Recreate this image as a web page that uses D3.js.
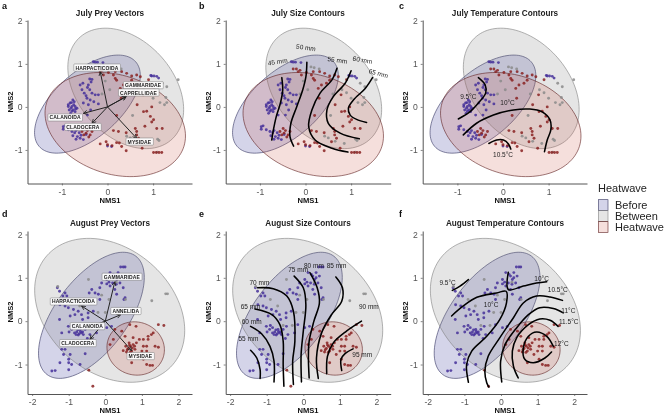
<!DOCTYPE html>
<html><head><meta charset="utf-8">
<script src="https://cdnjs.cloudflare.com/ajax/libs/d3/7.8.5/d3.min.js"></script>
<style>html,body{margin:0;padding:0;background:#fff}svg{display:block;font-family:"Liberation Sans",Arial,sans-serif;filter:blur(.3px)}</style>
</head><body><svg id="c" width="668" height="416"></svg>
<script>
// ---------- data (NMS units) ----------
const groups = ["Before","Between","Heatwave"];
// ellipse: group, centre x, centre y, half-width x, half-width y, correlation
const julyEllipses = [["Before",-.44,.065,1.16,1.14,.58],["Between",.40,.43,1.27,1.40,-.35],["Heatwave",.17,-.41,1.54,1.21,-.22]];
const augEllipses = [["Before",-.38,.135,1.445,1.455,.6],["Between",.12,.25,2.05,1.66,-.28],["Heatwave",.83,-.63,.785,.615,-.05]];

const julyBefore = [[-.82,.09],[-.76,.16],[-.73,.12],[-.86,.01],[-.78,.01],[-.71,.01],[-.84,-.07],[-.75,-.07],[-.81,-.15],[-.71,-.11],[-.86,.05],[-.67,-.03],[-.79,.1],[-.74,.05],[-.8,-.03],[-.7,-.05],[-.78,-.1],
[-.6,.51],[-.54,.55],[-.39,.65],[-.34,.64],[-.42,.51],[-.39,.4],[-.56,.4],[-.51,.32],[-.47,.26],[-.34,.32],[-.27,.28],[-.38,.16],[-.2,.28],[-.53,.09],[-.42,.05],[-.2,.07],[-.6,-.19],[-.44,-.19],[-.37,-.07],[-.44,.45],[-.36,.58],[-.45,.2],[-.3,.12],
[-.31,1.05],[-.22,1.04],[-.27,1.04],[-.1,1.03],
[-.97,-.46],[-.93,-.44],[-.86,-.53],[-.78,-.57],[-.69,-.55],[-.97,-.52],[-.76,-.67],[-.66,-.69],[-.6,-.73],[-.53,-.76],[-.69,-.75],[-.62,-.6],[-.47,-.64],[-.72,-.6],[-.58,-.66],
[.97,.72],[1.02,.72],[1.08,.71],[1.12,.67],[.95,.73],[0,-.91],[.09,-.92]];
const julyBetween = [[1.55,.63],[1.3,.47],[1.2,.55],[1.3,.1],[1.28,.22],[.12,.93],[.19,.91],[.3,.88],[.65,-.8],[.85,-.85],[1.1,-.75],[1.13,-.78],[1.09,-1.05],[.42,-.68],[.5,-.72],[.05,.4],[-.12,.3],[-.05,.6],[.9,.33],[1,.2],[1.15,.1],[1.25,.05],[.8,.4],[.6,.3],[.55,-.2]];
const julyHeatwave = [[-.16,-.86],[-.03,-.81],[0,-.88],[.1,-.9],[.2,-.83],[.26,-.84],[.41,-1.02],[.31,-.92],[.13,-.55],[.24,-.57],[.41,-.6],[.61,-.5],[.64,-.57],[.68,-.73],[.76,-.96],[1.01,-1.06],[1.07,-1.06],[1.13,-1.06],[1.19,-1.06],[.57,-.81],[.64,-.65],
[-.56,-.57],[-.47,-.61],[-.38,-.65],[-.49,-.5],[-.44,-.55],[-.34,-.57],[-.52,-.65],[-.41,-.7],
[-.27,.88],[-.16,.82],[.02,.8],[.17,.82],[.31,.82],[.42,.78],[.53,.72],[.72,.7],[.9,.63],[-.2,.88],[-.12,.85],[.64,.74],
[.17,.66],[.2,.62],[.53,.62],[.46,.55],[.13,.74],[-.09,.74],[.28,.43],[.35,.51],[.78,.28],[.97,0],[.94,-.22],[1.01,-.3],[1.08,-.5],[.79,-.11],[.3,.2],[.65,.05],[.86,-.1],[.97,-.35],[1.2,-.5],[.82,-.45],[.2,-.2]];

const augBefore = [[.04,.86],[.13,.81],[.2,.88],[.31,.96],[.26,1.04],[.35,1.12],[.42,1.25],[.49,1.25],[.54,1.25],[.13,1.12],[.22,1.08],[.4,.88],[.44,1.04],[.49,.77],[.54,.54],[.51,.5],[.04,.96],[-.1,.88],[-.15,.77],[-.28,.65],[-.19,.62],[-.15,.5],[-.37,.73],[-.44,.65],[.26,.73],[.31,.62],[.1,.9],[.3,.85],[.35,1.0],
[-1.31,.77],[-1.25,.69],[-1.1,.65],[-1.16,.58],[-1.05,.58],[-1.24,.38],[-1.1,.35],[-1.01,.31],[-.87,.27],[-.74,.23],[-1.25,.04],[-.96,.12],[-.83,.15],[-.65,.15],[-.47,.19],[-.62,.04],[-.47,.08],[-.33,.23],
[-1.01,-.12],[-.92,-.19],[-.84,-.15],[-.78,-.25],[-.71,-.29],[-.65,-.27],[-.6,-.31],[-.74,-.32],[-.84,-.27],[-.69,-.19],[-.55,-.19],[-.46,-.12],[-1.19,-.27],[-.99,-.25],[-.49,-.4],[-.42,-.31],[-.24,-.27],[-.15,-.08],[.04,-.15],[.17,-.12],[-.75,-.2],[-.68,-.24],[-.62,-.25],[-.8,-.31],[-.9,-.1],
[-1.19,-.65],[-1.14,-.77],[-1,-.88],[-1,-.96],[-.92,-1],[-1.24,-.96],[-1.37,-1.14],[-1.46,-1.15],[-1,-1.12],[-.69,-1],[-1.1,-.65],[-.55,-.75],[-.96,-.77]];
const augBetween = [[1.27,.47],[1.65,.63],[1.7,.63],[-.46,.96],[-.1,.6],[-1.3,.8],[-.9,.5],[-.7,.35],[.55,.5],[.1,.5],[-.55,-.1],[0,.2],[-.3,-.1],[.3,.9],[-.2,.2]];
const augHeatwave = [[.49,-.68],[.56,-.58],[.63,-.63],[.69,-.58],[.76,-.54],[.72,-.69],[.81,-.65],[.58,-.71],[.65,-.5],[.85,-.5],[.93,-.42],[1.04,-.42],[1.17,-.42],[1.26,-.31],[1.31,-.27],[1.17,-.35],[1.04,-.58],[1,-.69],[1.13,-.69],[1.36,-.58],[1.45,-.6],[1.13,-1],[1.22,-1.02],[1.29,-1.02],[.72,-.96],[1.04,-.88],[.67,-.08],[.84,-.12],[.54,-.35],[.45,-.23],[.26,-.19],[.13,-.54],[.22,-.42],[.9,-.77],[1.13,-.58],[.76,-.38],[-.45,-1.13],[-.34,-1.5],[1.45,-.08],[1.6,-.1],[.66,-.55],[.74,-.62],[.6,-.66],[.68,-.72],[.8,-.58]];

// prey vectors: name, arrow tip x, y, label x, y
const julyVectors = [["HARPACTICOIDA",-.16,.82,-.23,.91],["GAMMARIDAE",.41,.24,.78,.5],["CAPRELLIDAE",.41,.24,.68,.33],["CALANOIDA",-.53,-.15,-.93,-.25],["CLADOCERA",-.34,-.38,-.54,-.47],["MYSIDAE",.64,-.73,.7,-.81]];
const augVectors = [["GAMMARIDAE",.26,.91,.45,1.02],["HARPACTICOIDA",-.65,.35,-.87,.45],["ANNELIDA",.42,.15,.56,.23],["CALANOIDA",-.5,-.15,-.49,-.12],["CLADOCERA",-.42,-.42,-.75,-.51],["MYSIDAE",.72,-.68,.96,-.81]];

const julySize = [
[[-.52,.68],[-.5,.39],[-.55,.09],[-.64,-.22],[-.71,-.57],[-.74,-.77]],
[[.03,1.04],[.01,.71],[-.06,.4],[-.19,.01],[-.32,-.38],[-.34,-.69],[-.26,-.91]],
[[.69,.9],[.58,.63],[.32,.32],[.14,-.07],[.07,-.46],[.21,-.77],[.58,-.96],[.93,-1.05]],
[[1,.84],[.87,.55],[.61,.24],[.47,-.07],[.5,-.38],[.76,-.61],[1.18,-.74]],
[[1.47,.68],[1.31,.43],[1.05,.16],[.94,-.03],[.98,-.19],[1.12,-.29],[1.34,-.36]]];
const julySizeLabels = [["45 mm",-.61,1.05,-8],["50 mm",.01,1.38,8],["55 mm",.7,1.09,8],["60 mm",1.25,1.09,10],["65 mm",1.6,.78,15]];
const julyTemp = [
[[-.54,.68],[-.39,.51],[-.38,.32],[-.54,.09],[-.72,-.11],[-.98,-.28]],
[[-.87,-.65],[-.58,-.38],[-.21,-.19],[.23,-.07],[.59,-.05],[.85,-.11],[1.03,-.3],[1.05,-.53],[.97,-.77],[.91,-1.04]],
[[-.31,-.85],[-.14,-.77],[.01,-.77],[.12,-.86],[.17,-.98]]];
const julyTempLabels = [["9.5°C",-.76,.24,0],["10°C",.1,.09,0],["10.5°C",0,-1.12,0]];
const augSize = [
[[-1.44,-.67],[-1.27,-.85],[-1.18,-1.12],[-1.18,-1.32]],
[[-1.44,-.12],[-1.14,-.29],[-.91,-.58],[-.8,-.92],[-.8,-1.4]],
[[-1.32,.28],[-.86,.15],[-.64,-.08],[-.55,-.46],[-.55,-1],[-.53,-1.5]],
[[-1.25,.77],[-.82,.75],[-.45,.58],[-.27,.23],[-.23,-.46],[-.29,-.92],[-.27,-1.46]],
[[-.25,1.04],[0,.77],[.07,.38],[0,-.23],[-.06,-.77],[-.05,-1.4]],
[[.18,1.12],[.38,.77],[.44,.42],[.29,0],[.16,-.46],[.14,-.85],[.16,-1.31]],
[[.89,1.02],[1.07,.77],[1.05,.46],[.77,.15],[.5,-.27],[.36,-.85],[.41,-1.32]],
[[1.59,0],[1.18,-.23],[.82,-.5],[.66,-.81],[.64,-1.21]],
[[1.36,-.64],[1.14,-.75],[1.03,-.88],[1.05,-1.14]]];
const augSizeLabels = [["55 mm",-1.5,-.41,0],["60 mm",-1.41,-.02,0],["65 mm",-1.44,.34,0],["70 mm",-1.2,.88,0],["75 mm",-.14,1.18,0],["80 mm",.29,1.29,0],["85 mm",.91,1.29,0],["90 mm",1.79,.34,0],["95 mm",1.61,-.77,0]];
const augTemp = [
[[-1.33,.71],[-1.12,.81],[-.89,.96]],
[[-1.35,.12],[-1.03,.35],[-.66,.55],[-.12,.65],[.14,.69],[.15,.42],[-.03,.04],[-.39,-.35],[-.8,-.69],[-.94,-1],[-.89,-1.41]],
[[.2,1.13],[.2,.73],[.61,.81],[.97,.88],[1.25,.91]],
[[1.68,.48],[1.34,.56],[.97,.58],[.61,.42],[.34,.08],[-.03,-.38],[-.35,-.81],[-.44,-1.15],[-.39,-1.42],[-.33,-1.52]],
[[1.7,.19],[1.43,.29],[1.06,.31],[.75,.15],[.43,-.15],[.11,-.54],[-.01,-.92],[.02,-1.4]],
[[1.56,-.12],[1.34,.02],[1.06,.05],[.75,-.08],[.43,-.38],[.31,-.69],[.34,-1.04],[.47,-1.31]],
[[1.43,-.58],[1.25,-.35],[.97,-.25],[.75,-.35],[.61,-.62],[.65,-.88],[.88,-.96],[1.2,-.85],[1.38,-.71]]];
const augTempLabels = [["9.5°C",-1.46,.88,0],["10°C",-.27,.38,0],["10°C",1.11,.98,0],["10.5°C",1.55,.73,0],["11°C",1.84,.23,0],["11.5°C",1.85,-.02,0],["12°C",1.65,-.52,0]];

const julyXTicks = [-1,0,1], augXTicks = [-2,-1,0,1,2], yTicksJuly = [-1,0,1,2], yTicksAug = [-1,0,1,2];

// ---------- styles ----------
const fillC = {Before:"#3c3c9c",Between:"#7c7c7c",Heatwave:"#c8503c"};
const fillA = {Before:.22,Between:.2,Heatwave:.18};
const edge = {Before:"#33335f",Between:"#808080",Heatwave:"#5e1f1f"};
const dotC = {Before:"#45309a",Between:"#8b8b8b",Heatwave:"#8a2222"};

const svg = d3.select("#c");
const defs = svg.append("defs");
defs.append("marker").attr("id","ah").attr("viewBox","0 0 10 10").attr("refX",9).attr("refY",5)
  .attr("markerWidth",5).attr("markerHeight",5).attr("orient","auto")
  .append("path").attr("d","M1,1L9,5L1,9").attr("fill","none").attr("stroke","#222").attr("stroke-width",1.6);

const tParams = d3.range(0,361,3).map(d=>d*Math.PI/180);

function panel(o){
  const g = svg.append("g");
  const x = d3.scaleLinear().domain(o.xd).range(o.xr);
  const y = d3.scaleLinear().domain(o.yd).range(o.yr);
  const line = d3.line().x(d=>x(d[0])).y(d=>y(d[1]));
  o.ell.forEach(([k,cx,cy,hx,hy,r])=>{
    const phi = Math.acos(r);
    const pts = tParams.map(t=>[cx+hx*Math.cos(t), cy+hy*Math.cos(t-phi)]);
    g.append("path").attr("d",line(pts)+"Z").attr("fill",fillC[k]).attr("fill-opacity",fillA[k])
      .attr("stroke",edge[k]).attr("stroke-width",.6);
  });
  groups.forEach(k=>{
    g.append("g").selectAll("circle").data(o.pts[k]).join("circle")
      .attr("cx",d=>x(d[0])).attr("cy",d=>y(d[1])).attr("r",1.45)
      .attr("fill",dotC[k]).attr("fill-opacity",.85);
  });
  // axes
  const ax = d3.axisBottom(x).tickValues(o.xt).tickSize(2).tickSizeOuter(0).tickFormat(d3.format("d"));
  const ay = d3.axisLeft(y).tickValues(o.yt).tickSize(2).tickSizeOuter(0).tickFormat(d3.format("d"));
  [[ax,`translate(0,${o.yr[0]})`],[ay,`translate(${o.xr[0]},0)`]].forEach(([a,tr])=>{
    const s = g.append("g").attr("transform",tr).call(a);
    s.select(".domain").attr("stroke","#555").attr("stroke-width",1);
    s.selectAll(".tick line").attr("stroke","#555").attr("stroke-width",.7);
    s.selectAll("text").attr("font-size",8.6).attr("fill","#555").attr("font-family","inherit");
  });
  g.selectAll(".tick text").text(function(){return this.textContent.replace("\u2212","-");});
  if(o.contours){
    const cl = d3.line().x(d=>x(d[0])).y(d=>y(d[1])).curve(d3.curveCatmullRom.alpha(.5));
    g.append("g").selectAll("path").data(o.contours).join("path").attr("d",cl)
      .attr("fill","none").attr("stroke","#000").attr("stroke-width",1.55).attr("stroke-linecap","round");
    g.append("g").selectAll("text").data(o.labels).join("text")
      .attr("transform",d=>`translate(${x(d[1])},${y(d[2])}) rotate(${d[3]})`)
      .attr("text-anchor","middle").attr("dy","0.35em").attr("font-size",6.5).attr("fill","#222").text(d=>d[0]);
  }
  if(o.vectors){
    g.append("g").selectAll("path").data(o.vectors).join("path")
      .attr("d",d=>line([[0,0],[d[1],d[2]]])).attr("stroke","#222").attr("stroke-width",1)
      .attr("fill","none").attr("marker-end","url(#ah)");
    const lab = g.append("g").selectAll("g").data(o.vectors).join("g")
      .attr("transform",d=>`translate(${x(d[3])},${y(d[4])})`);
    lab.append("text").attr("text-anchor","middle").attr("dy","0.36em").attr("font-size",5)
      .attr("font-weight","bold").attr("fill","#222").attr("letter-spacing",.12).text(d=>d[0]);
    lab.insert("rect","text").each(function(){
      const b = this.parentNode.querySelector("text").getBBox();
      d3.select(this).attr("x",b.x-1.6).attr("y",b.y-.6).attr("width",b.width+3.2).attr("height",b.height+1.2).attr("rx",.8);
    }).attr("fill","#fff").attr("fill-opacity",.92).attr("stroke","#777").attr("stroke-width",.5);
  }
  // texts
  g.append("text").attr("x",o.tx).attr("y",o.ty).attr("text-anchor","middle").attr("font-size",8.2)
    .attr("font-weight","bold").attr("fill","#222").text(o.title);
  g.append("text").attr("x",o.tx).attr("y",o.xly).attr("text-anchor","middle").attr("font-size",7.6)
    .attr("font-weight","bold").attr("fill","#111").text("NMS1");
  g.append("text").attr("transform",`translate(${o.ylx},${o.yly}) rotate(-90)`).attr("text-anchor","middle")
    .attr("font-size",7.6).attr("font-weight","bold").attr("fill","#111").text("NMS2");
  g.append("text").attr("x",o.lx).attr("y",o.ly).attr("font-size",9).attr("font-weight","bold").attr("fill","#111").text(o.letter);
}

const julyPts = {Before:julyBefore,Between:julyBetween,Heatwave:julyHeatwave};
const augPts = {Before:augBefore,Between:augBetween,Heatwave:augHeatwave};

const rowJuly = {yd:[-1.78,2.02],yr:[183.5,20],yt:yTicksJuly,ty:16,xly:203,yly:102,ly:9,xt:julyXTicks,ell:julyEllipses,pts:julyPts};
const rowAug = {yd:[-1.68,2.08],yr:[394,231],yt:yTicksAug,ty:226,xly:413,yly:312,ly:217,xt:augXTicks,ell:augEllipses,pts:augPts};
const julyX = (l,z,r)=>({xd:[(l-z)/45.6,(r-z)/45.6],xr:[l,r]});
const augX = (l,z,r)=>({xd:[(l-z)/36.6,(r-z)/36.6],xr:[l,r]});

panel({...rowJuly,...julyX(27.5,107.5,192),title:"July Prey Vectors",tx:110,ylx:13,lx:2,letter:"a",vectors:julyVectors});
panel({...rowJuly,...julyX(225.7,305.5,390.7),title:"July Size Contours",tx:308,ylx:211,lx:199,letter:"b",contours:julySize,labels:julySizeLabels});
panel({...rowJuly,...julyX(422.7,503,587),title:"July Temperature Contours",tx:505,ylx:408,lx:399,letter:"c",contours:julyTemp,labels:julyTempLabels});
panel({...rowAug,...augX(27.5,105.3,192),title:"August Prey Vectors",tx:110,ylx:13,lx:2,letter:"d",vectors:augVectors});
panel({...rowAug,...augX(225.7,303.3,390.7),title:"August Size Contours",tx:308,ylx:211,lx:199,letter:"e",contours:augSize,labels:augSizeLabels});
panel({...rowAug,...augX(422.7,501,587),title:"August Temperature Contours",tx:505,ylx:408,lx:399,letter:"f",contours:augTemp,labels:augTempLabels});

// legend
const leg = svg.append("g");
leg.append("text").attr("x",598).attr("y",192).attr("font-size",11).attr("fill","#222").text("Heatwave");
const legY = d3.scalePoint().domain(groups).range([205,227]);
groups.forEach(k=>{
  leg.append("rect").attr("x",598.5).attr("y",legY(k)-5.3).attr("width",9.5).attr("height",10.6)
    .attr("fill",fillC[k]).attr("fill-opacity",fillA[k]).attr("stroke",edge[k]).attr("stroke-width",.6);
  leg.append("text").attr("x",615).attr("y",legY(k)).attr("dy","0.36em").attr("font-size",11).attr("fill","#222").text(k);
});
</script></body></html>
